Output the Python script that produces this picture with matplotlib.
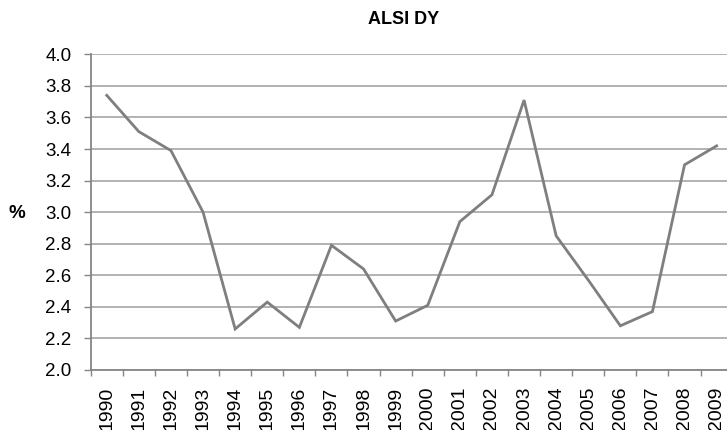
import matplotlib
matplotlib.use("Agg")
import matplotlib.pyplot as plt
import numpy as np

plt.rcParams['font.family'] = ['Liberation Sans', 'DejaVu Sans']

# ALSI dividend yield
years = [str(y) for y in range(1990, 2010)]
dy = [3.74, 3.51, 3.39, 3.00, 2.26, 2.43, 2.27, 2.79, 2.64, 2.31,
      2.41, 2.94, 3.11, 3.71, 2.85, 2.57, 2.28, 2.37, 3.30, 3.42]
y_ticks = [2.0, 2.2, 2.4, 2.6, 2.8, 3.0, 3.2, 3.4, 3.6, 3.8, 4.0]

fig = plt.figure(figsize=(7.27, 4.30), dpi=100)
ax = fig.add_axes([90.7 / 727, 1 - 370 / 430, 642 / 727, (370 - 54.3) / 430])

x = np.arange(len(years))
ax.plot(x, dy, color='#7f7f7f', linewidth=2.0, solid_joinstyle='miter', zorder=3)

ax.set_ylim(2.0, 4.0)
ax.set_yticks(y_ticks)
ax.set_yticklabels([f"{v:.1f}" for v in y_ticks])
ax.set_xlim(-0.5, len(years) - 0.5)

# ticks between categories, labels at centres
ax.set_xticks(np.arange(-0.5, len(years)), minor=False)
ax.set_xticklabels([])
ax.set_xticks(x, minor=True)
ax.set_xticklabels(years, minor=True, rotation=90)
ax.tick_params(axis='x', which='major', length=4, color='#868686', width=1)
ax.tick_params(axis='x', which='minor', length=0, pad=12, labelsize=14)
ax.tick_params(axis='y', length=5, color='#868686', width=1, pad=9, labelsize=13.5)

ax.grid(axis='y', color='#a6a6a6', linewidth=1.2)
ax.set_axisbelow(True)
for s in ['top', 'right']:
    ax.spines[s].set_visible(False)
for s in ['left', 'bottom']:
    ax.spines[s].set_color('#868686')
    ax.spines[s].set_linewidth(1.3)

fig.text(404 / 727, 1 - 20 / 430, 'ALSI DY', ha='center', va='center',
         fontsize=13, fontweight='bold')
fig.text(17 / 727, 1 - 214 / 430, '%', ha='center', va='center',
         fontsize=13.5, fontweight='bold')

fig.savefig('out.png', dpi=100)
